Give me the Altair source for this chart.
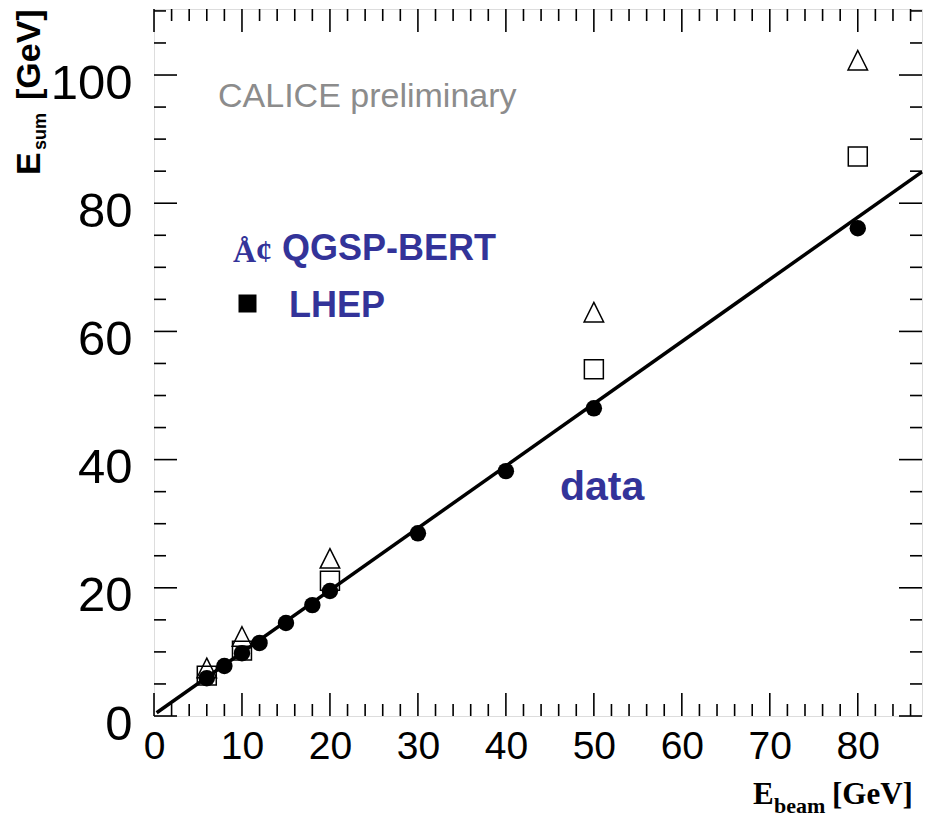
import altair as alt
import pandas as pd

# ---------------- data ----------------
energy_data = [6, 8, 10, 12, 15, 18, 20, 30, 40, 50, 80]
esum_data = [5.9, 7.8, 9.8, 11.4, 14.5, 17.3, 19.5, 28.5, 38.2, 48.0, 76.1]
energy_mc = [6, 10, 20, 50, 80]
esum_qgsp = [7.5, 12.4, 24.6, 63.0, 102.3]
esum_lhep = [6.3, 10.2, 21.1, 54.1, 87.3]
fit_x = [0.3, 87.3]
fit_y = [0.5, 84.9]

x_major = [0, 10, 20, 30, 40, 50, 60, 70, 80]
x_minor = [2, 4, 6, 8, 12, 14, 16, 18, 22, 24, 26, 28, 32, 34, 36, 38, 42, 44, 46, 48,
           52, 54, 56, 58, 62, 64, 66, 68, 72, 74, 76, 78, 82, 84, 86]
y_major = [0, 20, 40, 60, 80, 100]
y_minor = [5, 10, 15, 25, 30, 35, 45, 50, 55, 65, 70, 75, 85, 90, 95, 105, 110]

X_DOMAIN = [0, 87.3]
Y_DOMAIN = [0, 110.3]

# ---------------- layout ----------------
W, H = 768, 707
SANS = "Liberation Sans"
SERIF = "Liberation Serif"
BLUE = "#333399"
MAJ, MIN = 23, 12

xs = alt.Scale(domain=X_DOMAIN, nice=False, zero=False)
ys = alt.Scale(domain=Y_DOMAIN, nice=False, zero=False)
xaxis = alt.Axis(values=x_major, title=None, grid=False, ticks=False, tickSize=0, domain=False,
                 labelFont=SANS, labelFontSize=39, labelColor="black", labelPadding=11,
                 labelFlush=False, labelOverlap=False, format="d")
yaxis = alt.Axis(values=y_major, title=None, grid=False, ticks=False, tickSize=0, domain=False,
                 labelFont=SANS, labelFontSize=49, labelColor="black", labelPadding=22,
                 labelOffset=8, labelOverlap=False, format="d")


def X(f):
    return alt.X(f, type="quantitative", scale=xs, axis=xaxis)


def Y(f):
    return alt.Y(f, type="quantitative", scale=ys, axis=yaxis)


df_data = pd.DataFrame({"e": energy_data, "s": esum_data})
df_q = pd.DataFrame({"e": energy_mc, "s": esum_qgsp})
df_l = pd.DataFrame({"e": energy_mc, "s": esum_lhep})
df_fit = pd.DataFrame({"e": fit_x, "s": fit_y})

layers = []

# tick marks (inside, on all four sides)
for vals, length in [(x_major, MAJ), (x_minor, MIN)]:
    d = pd.DataFrame({"v": vals})
    layers.append(alt.Chart(d).mark_rule(color="black", strokeWidth=1.6).encode(
        x=X("v"), y=alt.value(H), y2=alt.value(H - length)))
    layers.append(alt.Chart(d).mark_rule(color="black", strokeWidth=1.6).encode(
        x=X("v"), y=alt.value(0), y2=alt.value(length)))
for vals, length in [(y_major, MAJ), (y_minor, MIN)]:
    d = pd.DataFrame({"v": vals})
    layers.append(alt.Chart(d).mark_rule(color="black", strokeWidth=1.6).encode(
        y=Y("v"), x=alt.value(0), x2=alt.value(length)))
    layers.append(alt.Chart(d).mark_rule(color="black", strokeWidth=1.6).encode(
        y=Y("v"), x=alt.value(W - length), x2=alt.value(W)))

# fit line
layers.append(alt.Chart(df_fit).mark_line(color="black", strokeWidth=3.5).encode(
    x=X("e"), y=Y("s")))

# MC points
layers.append(alt.Chart(df_q).mark_point(shape="M0,-1L1,1L-1,1Z", size=380, filled=False,
                                         color="black", strokeWidth=1.5, opacity=1).encode(
    x=X("e"), y=Y("s")))
layers.append(alt.Chart(df_l).mark_point(shape="square", size=360, filled=False,
                                         color="black", strokeWidth=1.5, opacity=1).encode(
    x=X("e"), y=Y("s")))
# data points
layers.append(alt.Chart(df_data).mark_point(shape="circle", size=270, filled=True,
                                            color="black", opacity=1).encode(
    x=X("e"), y=Y("s")))

one = pd.DataFrame({"k": [0]})


def txt(text, x, y, size, font=SANS, weight="normal", color="black", angle=0):
    kw = dict(text=text, font=font, fontSize=size, fontWeight=weight, color=color,
              align="left", baseline="alphabetic")
    if angle:
        kw["angle"] = angle
    return alt.Chart(one).mark_text(**kw).encode(x=alt.value(x), y=alt.value(y))


# annotations (positions in pixels inside the plot frame)
layers.append(txt("CALICE preliminary", 64, 98, 34, color="#8c8c8c"))
layers.append(txt("Å¢", 79, 253, 32, font=SERIF, weight="bold", color=BLUE))
layers.append(txt("QGSP-BERT", 128, 251, 36, weight="bold", color=BLUE))
layers.append(alt.Chart(one).mark_point(shape="square", size=324, filled=True, color="black",
                                        opacity=1).encode(x=alt.value(93.5), y=alt.value(294.5)))
layers.append(txt("LHEP", 135, 308, 36, weight="bold", color=BLUE))
layers.append(txt("data", 406, 491, 41, weight="bold", color=BLUE))

# axis titles with subscripts
layers.append(txt("E", -114, 166, 34, weight="bold", angle=270))
layers.append(txt("sum", -108, 141, 18, weight="bold", angle=270))
layers.append(txt("[GeV]", -114, 91, 34, weight="bold", angle=270))

layers.append(txt("E", 753 - 154, 804 - 9, 31, font=SERIF, weight="bold"))
layers.append(txt("beam", 774 - 154, 813 - 9, 22, font=SERIF, weight="bold"))
layers.append(txt("[GeV]", 832 - 154, 804 - 9, 31, font=SERIF, weight="bold"))

chart = alt.layer(*layers).properties(
    width=W, height=H,
    autosize=alt.AutoSizeParams(type="none"),
    padding={"left": 154, "top": 9, "right": 8, "bottom": 104},
).configure_view(stroke="black", strokeWidth=2).configure(background="white")

chart.save("out.html", embed_options={"renderer": "svg", "actions": False})
